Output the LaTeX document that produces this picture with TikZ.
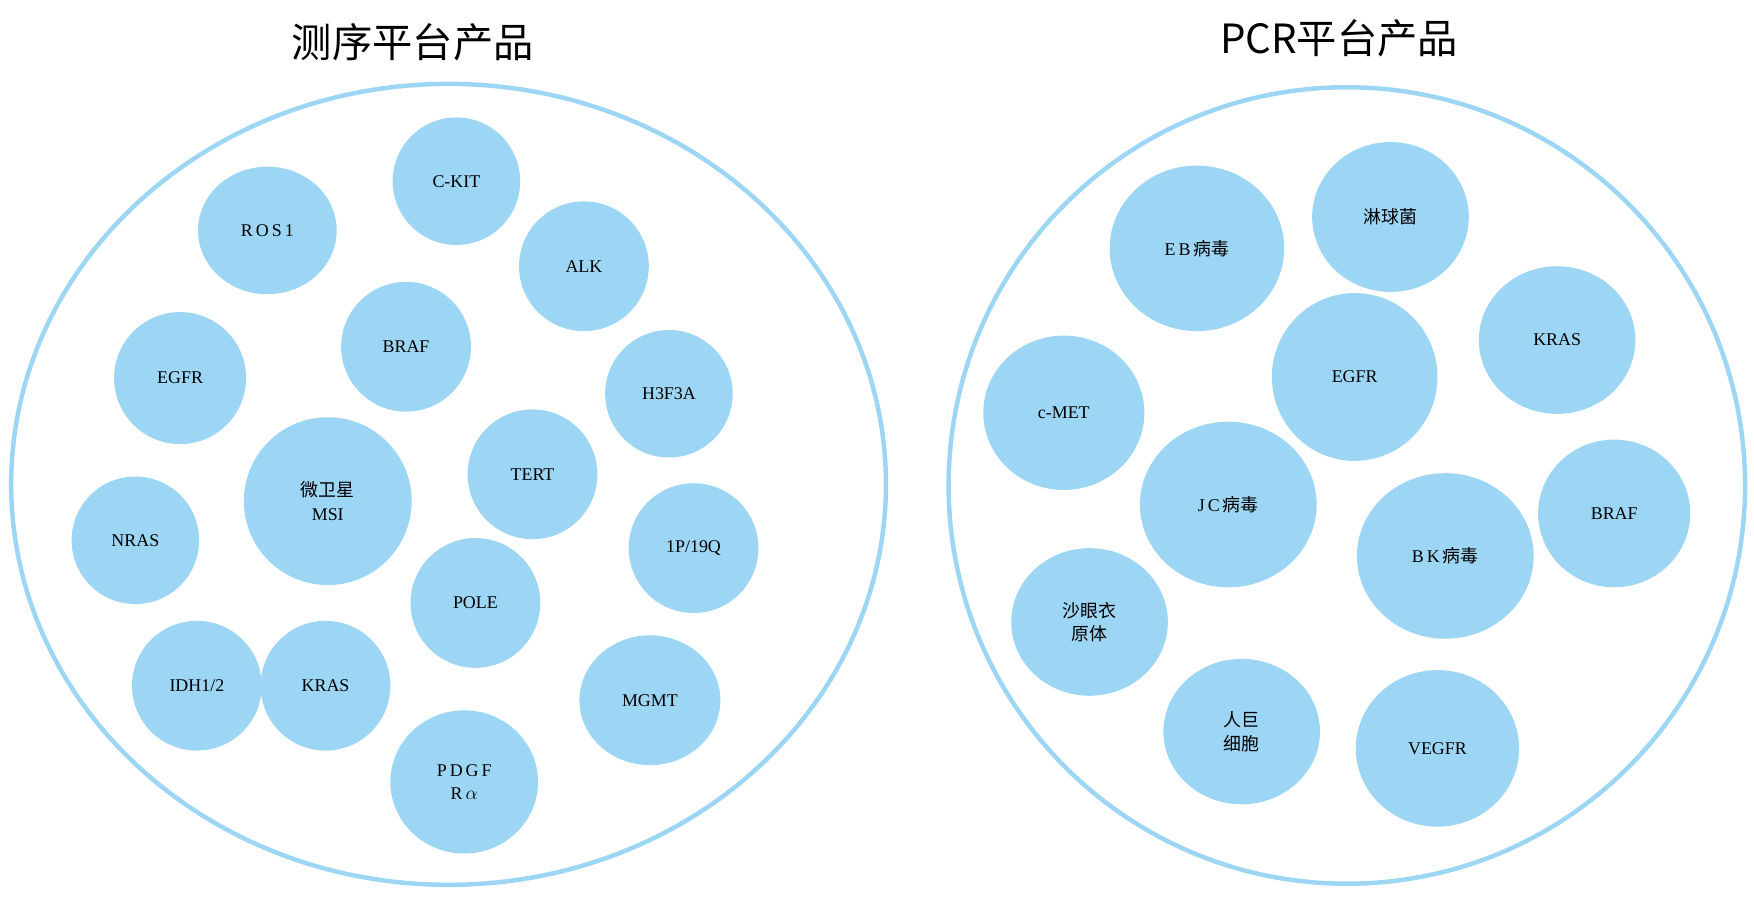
\documentclass[tikz,border=0pt]{standalone}
\usepackage{fontspec}
\setmainfont{Liberation Serif}
\newfontfamily\cjk{Noto Sans CJK SC}
\usetikzlibrary{shapes.geometric}
\definecolor{lb}{HTML}{9DD6F5}
\tikzset{
 big/.style={ellipse,draw=lb,line width=4pt,inner sep=0},
 bub/.style={ellipse,fill=lb,inner sep=0,align=center,font=\fontsize{16}{21}\selectfont},
 ttl/.style={font=\cjk\fontsize{36}{40}\selectfont}
}
\newcommand{\bb}[6]{\node[bub,minimum width=#4*2pt,minimum height=#5*2pt] (#1) at (#2,#3) {#6};}
\begin{document}
\begin{tikzpicture}[x=1pt,y=-1pt]
\useasboundingbox (0,0) rectangle (1568,802);
\node[ttl] (t1) at (369,38) {测序平台产品};
\node[ttl] (t2) at (1197,34) {PCR平台产品};
\node[big,minimum width=782pt,minimum height=716pt] (L) at (401,433) {};
\node[big,minimum width=712pt,minimum height=712pt] (R) at (1204,434) {};
\bb{a1}{408}{162}{57}{57}{C-KIT}
\bb{a2}{239}{206}{62}{57}{R\,O\,S\,1}
\bb{a3}{522}{238}{58}{58}{ALK}
\bb{a4}{363}{310}{58}{58}{BRAF}
\bb{a5}{161}{338}{59}{59}{EGFR}
\bb{a6}{598}{352}{57}{57}{H3F3A}
\bb{a7}{293}{448}{75}{75}{{\cjk 微卫星}\\MSI}
\bb{a8}{476}{424}{58}{58}{TERT}
\bb{a9}{121}{483}{57}{57}{NRAS}
\bb{a10}{620}{490}{58}{58}{1P/19Q}
\bb{a11}{425}{539}{58}{58}{POLE}
\bb{a12}{176}{613}{58}{58}{IDH1/2}
\bb{a13}{291}{613}{58}{58}{KRAS}
\bb{a14}{581}{626}{63}{58}{MGMT}
\bb{a15}{415}{699}{66}{64}{P\,D\,G\,F\\R\,$\alpha$}
\bb{b1}{1070}{222}{78}{74}{E\,B\,{\cjk 病毒}}
\bb{b2}{1243}{194}{70}{67}{{\cjk 淋球菌}}
\bb{b3}{1392}{304}{70}{66}{KRAS}
\bb{b4}{1211}{337}{74}{75}{EGFR}
\bb{b5}{951}{369}{72}{69}{c-MET}
\bb{b6}{1098}{451}{79}{74}{J\,C\,{\cjk 病毒}}
\bb{b7}{1443}{459}{68}{66}{BRAF}
\bb{b8}{1292}{497}{79}{74}{B\,K\,{\cjk 病毒}}
\bb{b9}{974}{556}{70}{66}{{\cjk 沙眼衣}\\{\cjk 原体}}
\bb{b10}{1110}{654}{70}{65}{{\cjk 人巨}\\{\cjk 细胞}}
\bb{b11}{1285}{669}{73}{70}{VEGFR}
\end{tikzpicture}
\end{document}
